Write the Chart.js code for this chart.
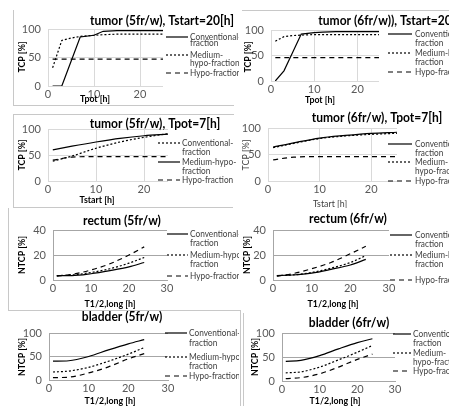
<!DOCTYPE html>
<html>
<head>
<meta charset="utf-8">
<script src="https://cdn.jsdelivr.net/npm/chart.js@4"></script>
<style>
  html, body { margin: 0; padding: 0; background: #fff; }
  body { width: 449px; height: 406px; position: relative; overflow: hidden; }
  canvas { position: absolute; }
  .ln { position: absolute; background: #c8c8c8; }
</style>
</head>
<body>
<div class="ln" style="left:13px;top:10px;width:1px;height:95px"></div>
<div class="ln" style="left:13px;top:105px;width:221px;height:1px"></div>
<div class="ln" style="left:242px;top:10px;width:207px;height:1px"></div>
<div class="ln" style="left:13px;top:114px;width:221px;height:1px"></div>
<div class="ln" style="left:13px;top:114px;width:1px;height:93px"></div>
<div class="ln" style="left:13px;top:207px;width:220px;height:1px"></div>
<div class="ln" style="left:8px;top:208px;width:1px;height:102px"></div>
<div class="ln" style="left:8px;top:310px;width:232px;height:1px"></div>
<div class="ln" style="left:240px;top:310px;width:1px;height:96px"></div>
<div class="ln" style="left:243px;top:313px;width:1px;height:93px"></div>

<canvas id="cA"></canvas>
<canvas id="cC"></canvas>
<canvas id="cE"></canvas>
<canvas id="cG"></canvas>
<canvas id="cB"></canvas>
<canvas id="cD"></canvas>
<canvas id="cF"></canvas>
<canvas id="cH"></canvas>

<script>
// ---- data ----
const seriesNames = ['Conventional-fraction', 'Medium-hypo-fraction', 'Hypo-fraction'];

// x values
const tpot = [1, 3, 5, 7, 10, 12, 15, 20, 25];
const tstart = [1, 5, 10, 15, 20, 25];
const thalf = [1, 5, 10, 15, 20, 24];

// tumor (5fr/w), Tstart=20[h]
const tumor5TpotConv = [0, 0, 43, 86, 89, 96, 97, 97, 97];
const tumor5TpotMed = [32, 80, 84, 87, 89, 90, 91, 91, 91];
const tumor5TpotHypo = [47, 47, 47, 47, 47, 47, 47, 47, 47];

// tumor (6fr/w), Tstart=20[h]
const tumor6TpotConv = [0, 20, 56, 92, 95, 96, 97, 97, 97];
const tumor6TpotMed = [78, 87, 89, 90, 91, 91, 91, 91, 91];
const tumor6TpotHypo = [46, 46, 46, 46, 46, 46, 46, 46, 46];

// tumor (5fr/w), Tpot=7[h]
const tumor5TstartConv = [38, 48, 63, 75, 84, 91];
const tumor5TstartMed = [60, 67, 75, 82, 87, 90];
const tumor5TstartHypo = [40, 46, 47, 47, 47, 47];

// tumor (6fr/w), Tpot=7[h]
const tumor6TstartConv = [64, 72, 81, 86, 90, 92];
const tumor6TstartMed = [63, 71, 80, 85, 88, 90];
const tumor6TstartHypo = [40, 45, 46, 46, 46, 46];

// rectum
const rectum5Conv = [3.5, 3.5, 5, 7.5, 10.5, 14];
const rectum5Med = [3.5, 4, 6, 9, 13.5, 18];
const rectum5Hypo = [3, 4.5, 8, 13, 20, 26.5];
const rectum6Conv = [3.5, 4, 5.5, 8.5, 12, 16.5];
const rectum6Med = [3.5, 4, 6, 9.5, 14, 19.5];
const rectum6Hypo = [3, 5, 9, 14, 21, 27];

// bladder
const bladder5Conv = [40, 41, 50, 64, 77, 86];
const bladder5Med = [17, 19, 27, 40, 55, 69];
const bladder5Hypo = [5, 6, 15, 28, 45, 56];
const bladder6Conv = [41, 43, 53, 67, 80, 88];
const bladder6Med = [17, 19, 29, 44, 60, 74];
const bladder6Hypo = [5, 7, 15, 29, 45, 56];

// ---- drawing ----
const FONT = 'Lato, "Liberation Sans", sans-serif';
const SOLID = [], DOT = [2, 2], DASH = [5, 4];

// narrow text a bit so Lato sits closer to the original Calibri widths
function squeezeText(ctx, t, x, y, sx) {
  ctx.save();
  ctx.translate(x, y);
  ctx.scale(sx, 1);
  ctx.fillText(t, 0, 0);
  ctx.restore();
}

// title, axis titles and legend drawn straight on the canvas
const panelDecor = {
  id: 'panelDecor',
  beforeDraw(chart) {
    const ctx = chart.ctx;
    ctx.save();
    ctx.fillStyle = '#fff';
    ctx.fillRect(0, 0, chart.width, chart.height);
    ctx.restore();
  },
  afterDraw(chart, args, o) {
    const ctx = chart.ctx;
    const ox = o.ox, oy = o.oy;
    ctx.save();
    ctx.textBaseline = 'middle';
    ctx.fillStyle = '#000';
    ctx.font = 'bold 14px ' + FONT;
    ctx.textAlign = 'center';
    squeezeText(ctx, o.title, o.titleX - ox, o.titleY - oy, 0.86);

    ctx.font = o.axisFont;
    ctx.fillStyle = o.axisColor;
    squeezeText(ctx, o.xTitle, o.xTitleX - ox, o.xTitleY - oy, 0.88);
    ctx.save();
    ctx.translate(o.yTitleX - ox, o.yTitleY - oy);
    ctx.rotate(-Math.PI / 2);
    squeezeText(ctx, o.yTitle, 0, 0, 0.88);
    ctx.restore();

    ctx.textAlign = 'left';
    ctx.font = '9px ' + FONT;
    ctx.fillStyle = '#404040';
    ctx.strokeStyle = '#000';
    ctx.lineWidth = 1.2;
    o.legend.forEach((it) => {
      ctx.setLineDash(it.dash);
      ctx.beginPath();
      ctx.moveTo(o.legX0 - ox, it.ys[0] - oy);
      ctx.lineTo(o.legX1 - ox, it.ys[0] - oy);
      ctx.stroke();
      ctx.setLineDash([]);
      it.lines.forEach((t, j) => squeezeText(ctx, t, o.legTextX - ox, it.ys[j] - oy, 0.92));
    });
    ctx.restore();
  }
};

function pts(xs, ys) {
  return xs.map((x, i) => ({ x: x, y: ys[i] }));
}

function makePanel(p) {
  const cv = document.getElementById(p.id);
  cv.width = p.box[2];
  cv.height = p.box[3];
  cv.style.left = p.box[0] + 'px';
  cv.style.top = p.box[1] + 'px';
  cv.style.width = p.box[2] + 'px';
  cv.style.height = p.box[3] + 'px';
  const yw = 30, xh = 14;
  const [pl, pr, pt, pb] = p.plot;
  const datasets = p.series.map((s) => ({
    label: s.name,
    data: pts(p.xs, s.ys),
    borderColor: '#000',
    borderWidth: 1.2,
    borderDash: s.dash,
    pointRadius: 0,
    tension: p.smooth ? 0.4 : 0,
    cubicInterpolationMode: p.smooth ? 'monotone' : 'default',
    fill: false
  }));
  new Chart(cv.getContext('2d'), {
    type: 'line',
    data: { datasets },
    plugins: [panelDecor],
    options: {
      responsive: false,
      animation: false,
      events: [],
      layout: {
        padding: {
          left: pl - p.box[0] - yw,
          right: p.box[0] + p.box[2] - pr,
          top: pt - p.box[1],
          bottom: p.box[1] + p.box[3] - pb - xh
        }
      },
      scales: {
        x: {
          type: 'linear',
          min: 0,
          max: p.xmax,
          afterFit: (s) => { s.height = xh; },
          ticks: { stepSize: 10, includeBounds: false, padding: 2, maxRotation: 0,
                   font: { family: FONT, size: 11 }, color: '#595959' },
          grid: { display: p.xgrid, color: '#d9d9d9', drawTicks: false },
          border: { display: !p.xgrid, color: '#a6a6a6' }
        },
        y: {
          min: 0,
          max: p.ymax,
          afterFit: (s) => { s.width = yw; },
          ticks: { stepSize: p.ystep, padding: 7,
                   font: { family: FONT, size: 11 }, color: '#595959' },
          grid: { color: p.gridColor, drawTicks: false },
          border: { display: true, color: p.xgrid ? '#d9d9d9' : '#a6a6a6' }
        }
      },
      plugins: {
        legend: { display: false },
        tooltip: { enabled: false },
        panelDecor: Object.assign({ ox: p.box[0], oy: p.box[1] }, p.text)
      }
    }
  });
}

const boldAxis = 'bold 10px ' + FONT;

makePanel({
  id: 'cA', box: [14, 11, 225, 94], plot: [48, 163, 29, 86],
  xs: tpot, xmax: 25, ymax: 100, ystep: 50, xgrid: true, gridColor: '#d9d9d9', smooth: false,
  series: [
    { name: seriesNames[0], ys: tumor5TpotConv, dash: SOLID },
    { name: seriesNames[1], ys: tumor5TpotMed, dash: DOT },
    { name: seriesNames[2], ys: tumor5TpotHypo, dash: DASH }
  ],
  text: {
    title: 'tumor (5fr/w), Tstart=20[h]', titleX: 162, titleY: 20,
    axisFont: boldAxis, axisColor: '#000',
    xTitle: 'Tpot [h]', xTitleX: 95, xTitleY: 99,
    yTitle: 'TCP [%]', yTitleX: 22, yTitleY: 57,
    legX0: 166, legX1: 188, legTextX: 190,
    legend: [
      { lines: ['Conventional-', 'fraction'], ys: [37, 43], dash: SOLID },
      { lines: ['Medium-', 'hypo-fraction'], ys: [55, 63], dash: DOT },
      { lines: ['Hypo-fraction'], ys: [73], dash: DASH }
    ]
  }
});

makePanel({
  id: 'cB', box: [241, 11, 208, 96], plot: [271, 379, 30, 81],
  xs: tpot, xmax: 25, ymax: 100, ystep: 50, xgrid: true, gridColor: '#d9d9d9', smooth: false,
  series: [
    { name: seriesNames[0], ys: tumor6TpotConv, dash: SOLID },
    { name: seriesNames[1], ys: tumor6TpotMed, dash: DOT },
    { name: seriesNames[2], ys: tumor6TpotHypo, dash: DASH }
  ],
  text: {
    title: 'tumor (6fr/w)), Tstart=20[h]', titleX: 392, titleY: 20,
    axisFont: boldAxis, axisColor: '#000',
    xTitle: 'Tpot [h]', xTitleX: 320, xTitleY: 100,
    yTitle: 'TCP [%]', yTitleX: 248, yTitleY: 57,
    legX0: 388, legX1: 412, legTextX: 415,
    legend: [
      { lines: ['Conventional-', 'fraction'], ys: [34, 43], dash: SOLID },
      { lines: ['Medium-hypo-', 'fraction'], ys: [53, 62], dash: DOT },
      { lines: ['Hypo-fraction'], ys: [72], dash: DASH }
    ]
  }
});

makePanel({
  id: 'cC', box: [14, 115, 225, 91], plot: [48, 168, 129, 181],
  xs: tstart, xmax: 25, ymax: 100, ystep: 50, xgrid: true, gridColor: '#d9d9d9', smooth: true,
  series: [
    { name: seriesNames[0], ys: tumor5TstartConv, dash: DOT },
    { name: seriesNames[1], ys: tumor5TstartMed, dash: SOLID },
    { name: seriesNames[2], ys: tumor5TstartHypo, dash: DASH }
  ],
  text: {
    title: 'tumor (5fr/w), Tpot=7[h]', titleX: 155, titleY: 123,
    axisFont: boldAxis, axisColor: '#000',
    xTitle: 'Tstart [h]', xTitleX: 97, xTitleY: 200,
    yTitle: 'TCP [%]', yTitleX: 22, yTitleY: 155,
    legX0: 158, legX1: 180, legTextX: 182,
    legend: [
      { lines: ['Conventional-', 'fraction'], ys: [143, 152], dash: DOT },
      { lines: ['Medium-hypo-', 'fraction'], ys: [162, 171], dash: SOLID },
      { lines: ['Hypo-fraction'], ys: [180], dash: DASH }
    ]
  }
});

makePanel({
  id: 'cD', box: [241, 108, 208, 100], plot: [268, 397, 128, 181],
  xs: tstart, xmax: 25, ymax: 100, ystep: 50, xgrid: true, gridColor: '#d9d9d9', smooth: true,
  series: [
    { name: seriesNames[0], ys: tumor6TstartConv, dash: SOLID },
    { name: seriesNames[1], ys: tumor6TstartMed, dash: DOT },
    { name: seriesNames[2], ys: tumor6TstartHypo, dash: DASH }
  ],
  text: {
    title: 'tumor (6fr/w), Tpot=7[h]', titleX: 377, titleY: 117,
    axisFont: '10px ' + FONT, axisColor: '#404040',
    xTitle: 'Tstart [h]', xTitleX: 330, xTitleY: 204,
    yTitle: 'TCP [%]', yTitleX: 246, yTitleY: 155,
    legX0: 388, legX1: 412, legTextX: 415,
    legend: [
      { lines: ['Conventional-', 'fraction'], ys: [144, 153], dash: SOLID },
      { lines: ['Medium-', 'hypo-fraction'], ys: [162, 171], dash: DOT },
      { lines: ['Hypo-fraction'], ys: [181], dash: DASH }
    ]
  }
});

makePanel({
  id: 'cE', box: [9, 209, 230, 100], plot: [53, 167, 230, 280],
  xs: thalf, xmax: 30, ymax: 40, ystep: 20, xgrid: false, gridColor: '#a6a6a6', smooth: true,
  series: [
    { name: seriesNames[0], ys: rectum5Conv, dash: SOLID },
    { name: seriesNames[1], ys: rectum5Med, dash: DOT },
    { name: seriesNames[2], ys: rectum5Hypo, dash: DASH }
  ],
  text: {
    title: 'rectum (5fr/w)', titleX: 122, titleY: 220,
    axisFont: boldAxis, axisColor: '#000',
    xTitle: 'T1/2,long [h]', xTitleX: 110, xTitleY: 304,
    yTitle: 'NTCP [%]', yTitleX: 22, yTitleY: 255,
    legX0: 167, legX1: 188, legTextX: 190,
    legend: [
      { lines: ['Conventional-', 'fraction'], ys: [234, 243], dash: SOLID },
      { lines: ['Medium-hypo-', 'fraction'], ys: [255, 264], dash: DOT },
      { lines: ['Hypo-fraction'], ys: [276], dash: DASH }
    ]
  }
});

makePanel({
  id: 'cF', box: [241, 209, 208, 100], plot: [273, 389, 230, 280],
  xs: thalf, xmax: 30, ymax: 40, ystep: 20, xgrid: false, gridColor: '#a6a6a6', smooth: true,
  series: [
    { name: seriesNames[0], ys: rectum6Conv, dash: SOLID },
    { name: seriesNames[1], ys: rectum6Med, dash: DOT },
    { name: seriesNames[2], ys: rectum6Hypo, dash: DASH }
  ],
  text: {
    title: 'rectum (6fr/w)', titleX: 348, titleY: 218,
    axisFont: boldAxis, axisColor: '#000',
    xTitle: 'T1/2,long [h]', xTitleX: 333, xTitleY: 304,
    yTitle: 'NTCP [%]', yTitleX: 247, yTitleY: 255,
    legX0: 390, legX1: 412, legTextX: 415,
    legend: [
      { lines: ['Conventional-', 'fraction'], ys: [235, 244], dash: SOLID },
      { lines: ['Medium-hypo-', 'fraction'], ys: [255, 264], dash: DOT },
      { lines: ['Hypo-fraction'], ys: [280], dash: DASH }
    ]
  }
});

makePanel({
  id: 'cG', box: [9, 311, 230, 95], plot: [49, 168, 333, 380],
  xs: thalf, xmax: 30, ymax: 100, ystep: 50, xgrid: false, gridColor: '#a6a6a6', smooth: true,
  series: [
    { name: seriesNames[0], ys: bladder5Conv, dash: SOLID },
    { name: seriesNames[1], ys: bladder5Med, dash: DOT },
    { name: seriesNames[2], ys: bladder5Hypo, dash: DASH }
  ],
  text: {
    title: 'bladder (5fr/w)', titleX: 122, titleY: 316,
    axisFont: boldAxis, axisColor: '#000',
    xTitle: 'T1/2,long [h]', xTitleX: 110, xTitleY: 401,
    yTitle: 'NTCP [%]', yTitleX: 22, yTitleY: 357,
    legX0: 165, legX1: 187, legTextX: 189,
    legend: [
      { lines: ['Conventional-', 'fraction'], ys: [333, 343], dash: SOLID },
      { lines: ['Medium-hypo-', 'fraction'], ys: [357, 366], dash: DOT },
      { lines: ['Hypo-fraction'], ys: [376], dash: DASH }
    ]
  }
});

makePanel({
  id: 'cH', box: [244, 310, 205, 96], plot: [282, 395, 333, 381],
  xs: thalf, xmax: 30, ymax: 100, ystep: 50, xgrid: false, gridColor: '#a6a6a6', smooth: true,
  series: [
    { name: seriesNames[0], ys: bladder6Conv, dash: SOLID },
    { name: seriesNames[1], ys: bladder6Med, dash: DOT },
    { name: seriesNames[2], ys: bladder6Hypo, dash: DASH }
  ],
  text: {
    title: 'bladder (6fr/w)', titleX: 349, titleY: 322,
    axisFont: boldAxis, axisColor: '#000',
    xTitle: 'T1/2,long [h]', xTitleX: 335, xTitleY: 401,
    yTitle: 'NTCP [%]', yTitleX: 255, yTitleY: 357,
    legX0: 393, legX1: 411, legTextX: 413,
    legend: [
      { lines: ['Conventional-', 'fraction'], ys: [334, 343], dash: SOLID },
      { lines: ['Medium-', 'hypo-fraction'], ys: [353, 362], dash: DOT },
      { lines: ['Hypo-fraction'], ys: [371], dash: DASH }
    ]
  }
});
</script>
</body>
</html>
